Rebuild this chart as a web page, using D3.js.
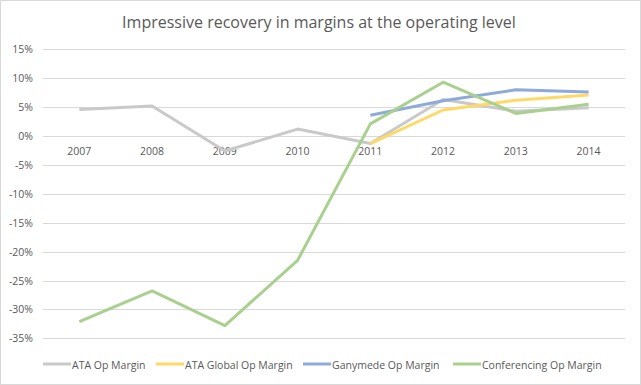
<!DOCTYPE html>
<html>
<head>
<meta charset="utf-8">
<script src="https://cdn.jsdelivr.net/npm/d3@7"></script>
<style>
  body { margin: 0; background: #fff; }
  svg { font-family: "Open Sans", "Liberation Sans", sans-serif; }
</style>
</head>
<body>
<svg id="chart" width="641" height="385"></svg>
<script>
const years = ['2007', '2008', '2009', '2010', '2011', '2012', '2013', '2014'];
const yTicks = [0.15, 0.10, 0.05, 0, -0.05, -0.10, -0.15, -0.20, -0.25, -0.30, -0.35];

const ataOp = [0.046, 0.052, -0.026, 0.012, -0.013, 0.063, 0.043, 0.049];
const ataGlobalOp = [null, null, null, null, -0.013, 0.045, 0.062, 0.071];
const ganymedeOp = [null, null, null, null, 0.036, 0.061, 0.080, 0.076];
const conferencingOp = [-0.321, -0.268, -0.328, -0.215, 0.021, 0.093, 0.039, 0.055];

const seriesNames = ['ATA Op Margin', 'ATA Global Op Margin', 'Ganymede Op Margin', 'Conferencing Op Margin'];
const seriesColors = ['#c9c9c9', '#ffd966', '#8eaadb', '#a9d08e'];
const seriesValues = [ataOp, ataGlobalOp, ganymedeOp, conferencingOp];

const svg = d3.select('#chart');
const W = 641, H = 385;
const plotLeft = 43, plotRight = 625, plotTop = 49.3, plotBottom = 338.3;

svg.append('rect')
	.attr('x', 0.5).attr('y', 0.5)
	.attr('width', W - 1).attr('height', H - 1)
	.attr('fill', '#fff')
	.attr('stroke', '#d9d9d9');

svg.append('text')
	.attr('x', 319).attr('y', 28)
	.attr('text-anchor', 'middle')
	.attr('font-size', 16)
	.attr('fill', '#595959')
	.text('Impressive recovery in margins at the operating level');

const x = d3.scaleBand().domain(years).range([plotLeft, plotRight]);
const y = d3.scaleLinear().domain([-0.35, 0.15]).range([plotBottom, plotTop]);

// gridlines
svg.append('g')
	.selectAll('line')
	.data(yTicks)
	.enter()
	.append('line')
	.attr('x1', plotLeft).attr('x2', plotRight)
	.attr('y1', (d) => Math.round(y(d)) + 0.5)
	.attr('y2', (d) => Math.round(y(d)) + 0.5)
	.attr('stroke', '#d9d9d9')
	.attr('stroke-width', 1);

// y labels
svg.append('g')
	.selectAll('text')
	.data(yTicks)
	.enter()
	.append('text')
	.attr('x', 33)
	.attr('y', (d) => y(d) + 4)
	.attr('text-anchor', 'end')
	.attr('font-size', 10.5)
	.attr('fill', '#595959')
	.text((d) => d3.format('.0%')(d).replace('−', '-'));

// category labels, sitting just under the zero line
svg.append('g')
	.selectAll('text')
	.data(years)
	.enter()
	.append('text')
	.attr('x', (d) => x(d) + x.bandwidth() / 2)
	.attr('y', y(0) + 19)
	.attr('text-anchor', 'middle')
	.attr('font-size', 10.5)
	.attr('fill', '#595959')
	.text((d) => d);

const line = d3.line()
	.defined((d) => d !== null)
	.x((d, i) => x(years[i]) + x.bandwidth() / 2)
	.y((d) => y(d));

svg.append('g')
	.selectAll('path')
	.data(seriesValues)
	.enter()
	.append('path')
	.attr('d', (d) => line(d))
	.attr('fill', 'none')
	.attr('stroke', (d, i) => seriesColors[i])
	.attr('stroke-width', 3)
	.attr('stroke-linejoin', 'round');

// legend
const legendX = [43, 156, 303, 453];
const legend = svg.append('g')
	.selectAll('g')
	.data(seriesNames)
	.enter()
	.append('g')
	.attr('transform', (d, i) => `translate(${legendX[i]},364)`);

legend.append('line')
	.attr('x1', 0).attr('x2', 28)
	.attr('stroke', (d, i) => seriesColors[i])
	.attr('stroke-width', 3);

legend.append('text')
	.attr('x', 29).attr('y', 4.5)
	.attr('font-size', 10.5)
	.attr('fill', '#595959')
	.text((d) => d);
</script>
</body>
</html>
